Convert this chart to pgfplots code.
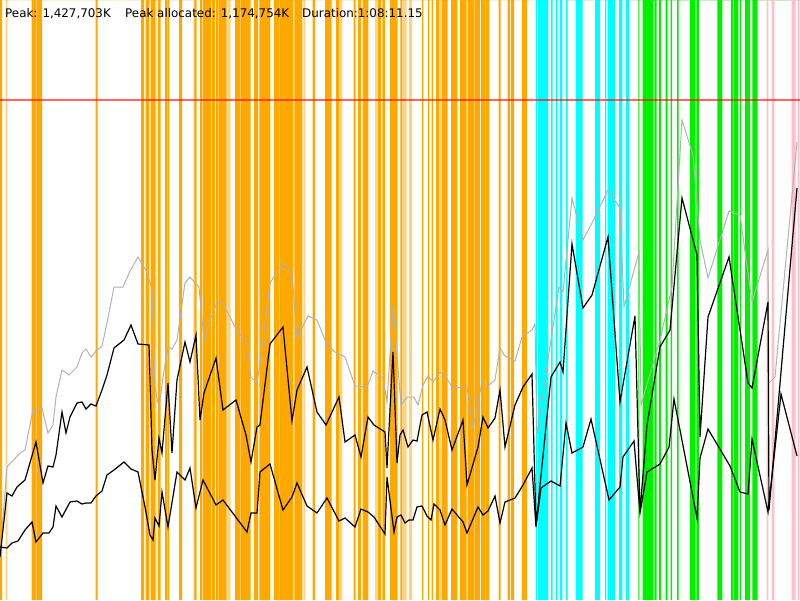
\documentclass[border=0pt]{standalone}
\usepackage{pgfplots}
\pgfplotsset{compat=1.18}
\usepackage{fontspec}
\setmainfont{DejaVu Sans}
\definecolor{bor}{RGB}{255,168,0}
\definecolor{bcy}{RGB}{0,255,255}
\definecolor{bgr}{RGB}{0,240,0}
\definecolor{bpk}{RGB}{255,192,203}
\definecolor{lgray}{RGB}{178,178,178}
\begin{document}
\begin{tikzpicture}
\begin{axis}[
  scale only axis, width=800pt, height=600pt,
  xmin=0, xmax=800, ymin=0, ymax=600, y dir=reverse,
  hide axis, clip=true,
]
% background
\addplot[draw=none, fill=white, const plot] coordinates {(0,600) (800,600)} \closedcycle;
% orange bands (start,600) (end,0)
\addplot[draw=none, fill=bor, const plot] coordinates {
(0,600)(2,0)(31.7,600)(36,0)(36.7,600)(42,0)(95.7,600)(97.7,0)
(141,600)(144,0)(145.7,600)(149.3,0)(150.7,600)(155,0)(158,600)(160.7,0)
(165,600)(167,0)(167.6,600)(169.3,0)(179,600)(182,0)(194.3,600)(196.7,0)
(200,600)(202.3,0)(203,600)(211.3,0)(212,600)(215,0)(216,600)(218.5,0)(219.2,600)(226.7,0)
(235,600)(240,0)(240.7,600)(250.7,0)(254,600)(258,0)(259.3,600)(270.3,0)
(274,600)(279,0)(279.6,600)(293.3,0)(294.3,600)(302.3,0)(312.7,600)(315,0)
(325,600)(331.7,0)(336,600)(339,0)(353.7,600)(355.7,0)(358,600)(361,0)
(362.7,600)(368.3,0)(377.7,600)(381,0)(382.3,600)(385,0)(390,600)(397.7,0)
(400.3,600)(402.3,0)(422,600)(423.3,0)(428,600)(429.3,0)(431.7,600)(433,0)
(436,600)(439.3,0)(442,600)(447.7,0)(451,600)(457.3,0)(460,600)(466.7,0)
(467.7,600)(474,0)(474.6,600)(480,0)(481,600)(485,0)(485.7,600)(489.3,0)
(498.7,600)(500.7,0)(507.7,600)(510,0)(511,600)(514,0)(522,600)(527,0)(800,0)
} \closedcycle;
% light orange bands
\addplot[draw=none, fill=bor, fill opacity=0.5, const plot] coordinates {
(5.7,600)(7.3,0)(33,600)(35,0)(155,600)(156.7,0)(193.3,600)(194.3,0)
(227.3,600)(230.7,0)(303.3,600)(305,0)(339,600)(342.3,0)(375,600)(377,0)
(402.7,600)(406.7,0)(409,600)(412,0)(440,600)(441.7,0)(800,0)
} \closedcycle;
% cyan bands
\addplot[draw=none, fill=bcy, const plot] coordinates {
(536,600)(537,0)(538,600)(548.3,0)(551,600)(552.7,0)(555.7,600)(557.7,0)
(560,600)(562.3,0)(566,600)(567.7,0)(575.7,600)(582.7,0)(595,600)(600,0)
(605,600)(606.3,0)(607.7,600)(615,0)(619,600)(622.3,0)(626,600)(629,0)(800,0)
} \closedcycle;
% green bands
\addplot[draw=none, fill=bgr, const plot] coordinates {
(638.3,600)(639.3,0)(642.7,600)(653.3,0)(654.3,600)(656.7,0)(659,600)(661,0)
(665.7,600)(667.7,0)(670.5,600)(672,0)(677,600)(678.7,0)(690,600)(695.7,0)
(696.3,600)(699,0)(717.3,600)(722.3,0)(731,600)(733.3,0)(734,600)(738.3,0)
(740,600)(741,0)(745,600)(750,0)(752.3,600)(757.7,0)(800,0)
} \closedcycle;
% pink bands
\addplot[draw=none, fill=bpk, const plot] coordinates {
(766.7,600)(768.3,0)(771.7,600)(774.3,0)(791.7,600)(795.7,0)(797.7,600)(799.3,0)(800,0)
} \closedcycle;
% red peak line
\addplot[red, opacity=0.6, line width=1.5pt] coordinates {(0,100) (800,100)};
% gray line
\addplot[lgray, line width=1pt] coordinates {
(0,555)(7,467)(20,453)(25,450)(33,410)(42,408)(48,433)(53,425)(56,397)(62,370)(69,375)(77,367)(82,353)(86,349)(91,357)(97,350)(102,346)(107,323)(114,287)(123,287)(130,271)(138,257)(147,272)(152,290)(155,387)(159,408)(163,377)(168,347)(172,349)(177,340)(185,283)(190,277)(199,287)(204,340)(210,320)(217,303)(223,303)(235,327)(247,345)(251,377)(257,383)(260,363)(270,283)(283,263)(292,273)(297,338)(308,316)(317,320)(327,345)(335,352)(345,357)(355,386)(367,387)(373,371)(383,378)(387,402)(393,305)(401,405)(407,397)(414,397)(418,405)(423,385)(428,376)(433,382)(440,372)(446,377)(452,387)(463,388)(467,387)(473,428)(482,382)(488,386)(495,380)(500,348)(505,356)(515,361)(522,337)(532,330)(535,324)(537,435)(548,360)(559,287)(563,292)(572,198)(583,240)(592,223)(608,190)(620,208)(624,307)(639,252)(641,405)(660,340)(672,287)(682,120)(693,155)(700,240)(708,278)(729,211)(740,215)(752,302)(768,250)(769,383)(775,377)(797,142)
};
% middle black line
\addplot[black, line width=1.2pt] coordinates {
(0,557)(7,493)(12,496)(17,487)(25,480)(36,442)(43,483)(48,466)(53,467)(56,455)(62,412)(66,433)(70,417)(77,403)(82,402)(86,409)(91,404)(96,406)(102,390)(107,375)(114,348)(124,340)(131,325)(138,344)(149,345)(152,450)(155,480)(159,438)(162,453)(168,383)(172,453)(177,380)(185,342)(190,362)(196,335)(200,420)(204,393)(216,358)(223,410)(236,400)(246,435)(251,462)(257,427)(260,425)(270,344)(283,327)(292,421)(297,390)(307,367)(317,412)(326,425)(339,397)(345,442)(355,435)(361,457)(368,417)(374,425)(385,432)(387,468)(393,352)(397,463)(400,435)(403,430)(408,447)(413,440)(417,441)(422,415)(427,412)(433,440)(440,409)(445,420)(452,450)(463,420)(467,485)(478,447)(483,417)(488,428)(495,418)(500,390)(505,447)(515,405)(523,387)(532,374)(536,525)(551,377)(560,362)(563,372)(572,244)(583,308)(592,295)(608,237)(620,402)(635,316)(640,512)(647,425)(660,347)(670,330)(682,198)(697,255)(700,437)(708,317)(729,257)(748,383)(752,388)(768,302)(769,510)(797,188)
};
% bottom black line
\addplot[black, line width=1.2pt] coordinates {
(0,547)(7,548)(12,543)(18,541)(25,530)(32,522)(36,542)(43,533)(49,533)(53,527)(56,506)(62,517)(70,502)(77,501)(82,504)(86,503)(91,503)(96,496)(102,491)(107,475)(114,470)(124,462)(131,469)(138,472)(145,507)(150,535)(153,540)(155,518)(159,526)(162,492)(168,527)(177,472)(185,480)(190,468)(196,508)(203,480)(216,505)(223,500)(247,532)(251,513)(257,513)(260,472)(270,464)(283,510)(292,497)(297,483)(307,506)(317,513)(327,498)(339,521)(345,518)(355,527)(361,509)(368,512)(374,517)(385,534)(387,477)(394,532)(397,517)(401,515)(405,523)(409,520)(413,520)(417,507)(422,506)(427,516)(431,520)(434,504)(440,510)(445,525)(452,509)(463,522)(467,533)(478,507)(483,515)(488,511)(495,496)(500,523)(505,502)(515,498)(523,485)(532,468)(536,527)(541,488)(551,481)(560,486)(566,423)(572,453)(583,447)(591,419)(609,500)(620,487)(623,457)(634,441)(640,513)(647,472)(660,464)(669,447)(674,399)(697,518)(700,458)(708,429)(730,466)(740,492)(748,494)(752,439)(768,512)(781,394)(797,456)
};
\node[anchor=base west, inner sep=0pt, font=\fontsize{11.9}{13}\selectfont] at (axis cs:5,17.5) {Peak: 1,427,703K};
\node[anchor=base west, inner sep=0pt, font=\fontsize{11.9}{13}\selectfont] at (axis cs:125,17.5) {Peak allocated: 1,174,754K};
\node[anchor=base west, inner sep=0pt, font=\fontsize{11.9}{13}\selectfont] at (axis cs:302,17.5) {Duration:1:08:11.15};
\end{axis}
\end{tikzpicture}
\end{document}
